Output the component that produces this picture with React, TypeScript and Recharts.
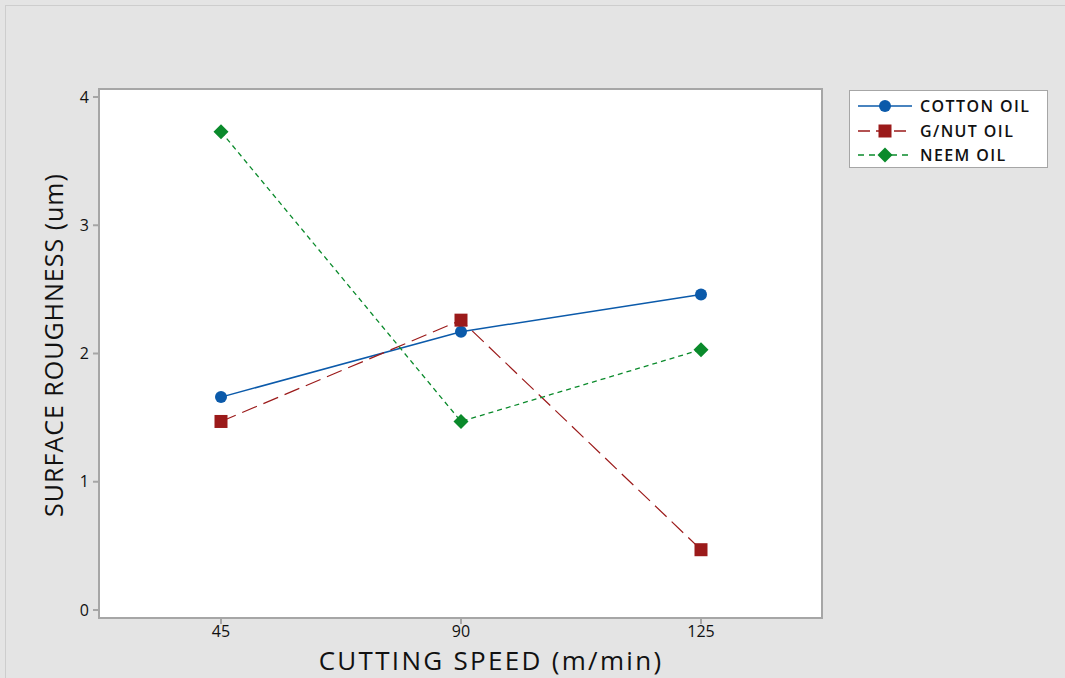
import { LineChart, Line, XAxis, YAxis, Legend } from 'recharts';

const speeds = ['45', '90', '125'];
const cottonOil = [1.66, 2.17, 2.46];
const gnutOil = [1.47, 2.26, 0.47];
const neemOil = [3.73, 1.47, 2.03];
const yTicks = [0, 1, 2, 3, 4];

const BLUE = '#0b5aaa';
const RED = '#9b1a1a';
const GREEN = '#0a8a2b';
const FONT = '"Open Sans", "DejaVu Sans", sans-serif';

const data = speeds.map((s, i) => ({
  speed: s,
  cotton: cottonOil[i],
  gnut: gnutOil[i],
  neem: neemOil[i],
}));

const CircleDot = (props: any) => {
  const { cx, cy } = props;
  if (cx == null || cy == null) return null;
  return <circle cx={cx} cy={cy} r={6} fill={BLUE} stroke="none" />;
};

const SquareDot = (props: any) => {
  const { cx, cy } = props;
  if (cx == null || cy == null) return null;
  return <rect x={cx - 6.5} y={cy - 6.5} width={13} height={13} fill={RED} stroke="none" />;
};

const DiamondDot = (props: any) => {
  const { cx, cy } = props;
  if (cx == null || cy == null) return null;
  return <polygon points={`${cx},${cy - 7.5} ${cx + 7.5},${cy} ${cx},${cy + 7.5} ${cx - 7.5},${cy}`} fill={GREEN} />;
};

const legendItems = [
  { name: 'COTTON OIL', color: BLUE, dash: undefined, shape: 'circle' },
  { name: 'G/NUT OIL', color: RED, dash: '12 6', shape: 'square' },
  { name: 'NEEM OIL', color: GREEN, dash: '6 5', shape: 'diamond' },
];

const LegendBox = () => (
  <div style={{ width: 199, height: 78, background: '#fff', border: '1px solid #a6a6a6', boxSizing: 'border-box', paddingTop: 3 }}>
    {legendItems.map((it) => (
      <div key={it.name} style={{ display: 'flex', alignItems: 'center', height: 24.5 }}>
        <svg width={70} height={20} style={{ marginLeft: 6 }}>
          <line x1={2} y1={10} x2={56} y2={10} stroke={it.color} strokeWidth={1.5} strokeDasharray={it.dash} />
          {it.shape === 'circle' && <circle cx={29} cy={10} r={6} fill={it.color} />}
          {it.shape === 'square' && <rect x={22.5} y={3.5} width={13} height={13} fill={it.color} />}
          {it.shape === 'diamond' && <polygon points="29,2.5 36.5,10 29,17.5 21.5,10" fill={it.color} />}
        </svg>
        <span style={{ fontFamily: FONT, fontSize: 16, fontWeight: 600, letterSpacing: 1.4, color: '#111', marginLeft: -6 }}>{it.name}</span>
      </div>
    ))}
  </div>
);

export default function App() {
  return (
    <div style={{ position: 'absolute', left: 0, top: 0, width: 1065, height: 678, background: '#e4e4e4', overflow: 'hidden' }}>
      <div style={{ position: 'absolute', left: 5, top: 5, width: 1060, height: 673, borderLeft: '1px solid #cdcdcd', borderTop: '1px solid #cdcdcd', boxSizing: 'border-box' }} />
      <div style={{ position: 'absolute', left: 98, top: 88, width: 725, height: 531, background: '#fff', border: '2px solid #a6a6a6', boxSizing: 'border-box' }} />
      <div style={{ position: 'absolute', left: 0, top: 0 }}>
        <LineChart width={1065} height={678} data={data} margin={{ top: 89, right: 243, bottom: 20, left: 49 }}>
          <XAxis
            dataKey="speed"
            height={40}
            padding={{ left: 122, right: 121 }}
            axisLine={{ stroke: '#a6a6a6', strokeWidth: 2 }}
            tickLine={{ stroke: '#a6a6a6', strokeWidth: 2 }}
            tickSize={6}
            tick={{ fill: '#111', fontSize: 16, fontFamily: FONT }}
            tickMargin={2}
          />
          <YAxis
            type="number"
            width={50}
            domain={[-0.0625, 4.0625]}
            ticks={yTicks}
            allowDataOverflow
            axisLine={{ stroke: '#a6a6a6', strokeWidth: 2 }}
            tickLine={{ stroke: '#a6a6a6', strokeWidth: 2 }}
            tickSize={6}
            tick={{ fill: '#111', fontSize: 16, fontFamily: FONT }}
            tickMargin={4}
          />
          <Legend
            layout="horizontal"
            verticalAlign="middle"
            align="center"
            content={() => <LegendBox />}
            wrapperStyle={{ position: 'absolute', left: 849, top: 90, width: 199, height: 78 }}
          />
          <Line dataKey="cotton" name="COTTON OIL" stroke={BLUE} strokeWidth={1.5} dot={<CircleDot />} activeDot={false} isAnimationActive={false} />
          <Line dataKey="gnut" name="G/NUT OIL" stroke={RED} strokeWidth={1.2} strokeDasharray="16 7" dot={<SquareDot />} activeDot={false} isAnimationActive={false} />
          <Line dataKey="neem" name="NEEM OIL" stroke={GREEN} strokeWidth={1.3} strokeDasharray="5 4" dot={<DiamondDot />} activeDot={false} isAnimationActive={false} />
        </LineChart>
      </div>
      <div style={{ position: 'absolute', left: 53, top: 345, transform: 'translate(-50%, -50%) rotate(-90deg)', whiteSpace: 'nowrap', fontFamily: FONT, fontSize: 25, letterSpacing: 1, lineHeight: 1, color: '#111' }}>
        SURFACE ROUGHNESS (um)
      </div>
      <div style={{ position: 'absolute', left: 491, top: 660, transform: 'translate(-50%, -50%)', whiteSpace: 'nowrap', fontFamily: FONT, fontSize: 26, letterSpacing: 2.3, lineHeight: 1, color: '#111' }}>
        CUTTING SPEED (m/min)
      </div>
    </div>
  );
}
